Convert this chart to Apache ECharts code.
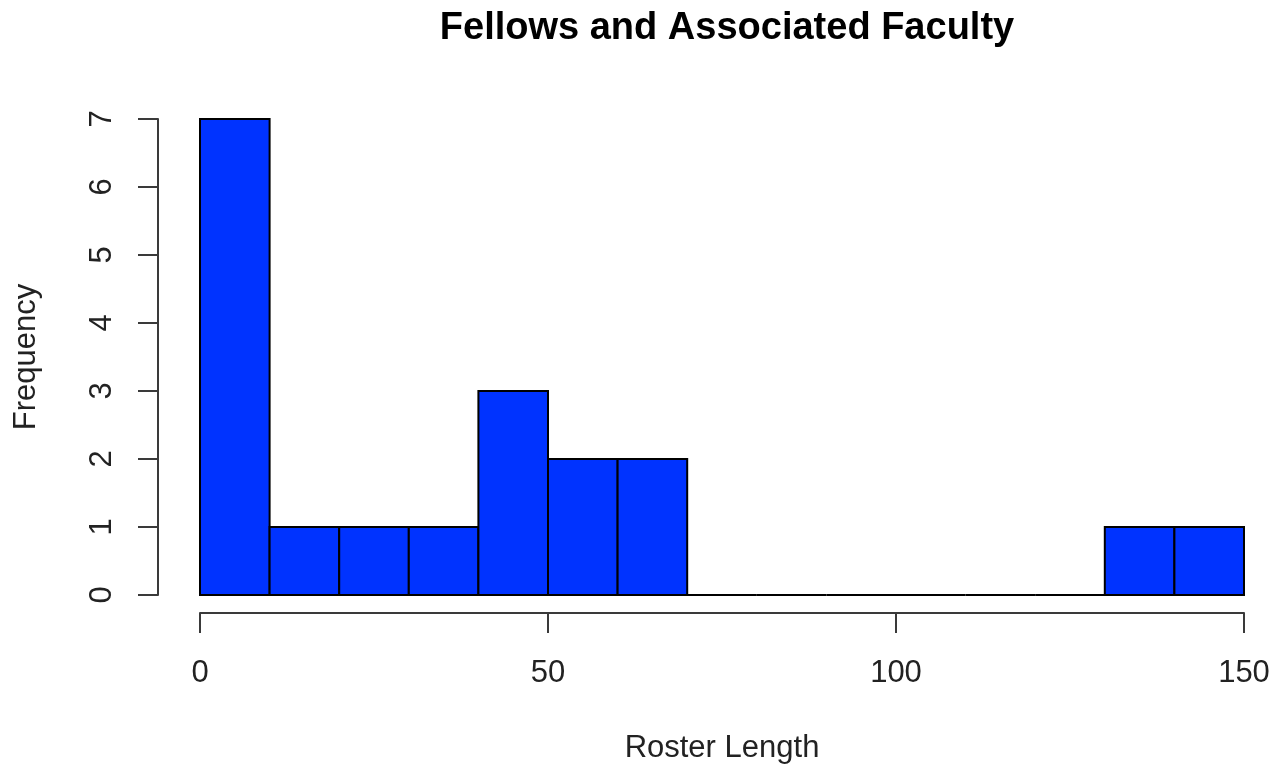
<!DOCTYPE html>
<html>
<head>
<meta charset="utf-8">
<script src="https://cdn.jsdelivr.net/npm/echarts@6/dist/echarts.min.js"></script>
<style>html,body{margin:0;padding:0;background:#fff}#chart{width:1284px;height:767px}</style>
</head>
<body>
<div id="chart"></div>
<script>
const chartTitle = 'Fellows and Associated Faculty';
const xTitle = 'Roster Length';
const yTitle = 'Frequency';
const binStarts = [0, 10, 20, 30, 40, 50, 60, 70, 80, 90, 100, 110, 120, 130, 140];
const binEnds   = [10, 20, 30, 40, 50, 60, 70, 80, 90, 100, 110, 120, 130, 140, 150];
const counts    = [7, 1, 1, 1, 3, 2, 2, 0, 0, 0, 0, 0, 0, 1, 1];

const FONT = 'Liberation Sans, Arial, Helvetica, sans-serif';
const data = binStarts.map((s, i) => [s, binEnds[i], counts[i]]);

const chart = echarts.init(document.getElementById('chart'), null, {renderer: 'canvas'});
chart.setOption({
  backgroundColor: '#ffffff',
  animation: false,
  title: {
    text: chartTitle,
    left: 722,
    top: 5,
    textAlign: 'center',
    textStyle: {fontFamily: FONT, fontWeight: 'bold', fontSize: 38, color: '#000'}
  },
  grid: {left: 200, right: 40, top: 119, bottom: 172, containLabel: false, outerBoundsMode: 'none'},
  xAxis: {
    type: 'value', min: 0, max: 150, interval: 50,
    offset: 18,
    splitLine: {show: false},
    axisLine: {show: true, onZero: false, lineStyle: {color: '#3a3a3a', width: 2}},
    axisTick: {show: true, length: 20, lineStyle: {color: '#3a3a3a', width: 2}},
    axisLabel: {margin: 45, fontSize: 31, fontFamily: FONT, color: '#222'},
    name: xTitle, nameLocation: 'middle', nameGap: 120,
    nameTextStyle: {fontSize: 31, fontFamily: FONT, color: '#222'}
  },
  yAxis: {
    type: 'value', min: 0, max: 7, interval: 1,
    offset: 42,
    splitLine: {show: false},
    axisLine: {show: true, onZero: false, lineStyle: {color: '#3a3a3a', width: 2}},
    axisTick: {show: true, length: 20, lineStyle: {color: '#3a3a3a', width: 2}},
    axisLabel: {rotate: 90, margin: 40, fontSize: 31, fontFamily: FONT, color: '#222'},
    name: yTitle, nameLocation: 'middle', nameGap: 116,
    nameTextStyle: {fontSize: 31, fontFamily: FONT, color: '#222'}
  },
  series: [{
    type: 'custom',
    clip: false,
    data: data,
    encode: {x: [0, 1], y: 2},
    renderItem: function (params, api) {
      const p0 = api.coord([api.value(0), api.value(2)]);
      const p1 = api.coord([api.value(1), 0]);
      return {
        type: 'rect',
        shape: {x: p0[0], y: p0[1], width: p1[0] - p0[0], height: p1[1] - p0[1]},
        style: {fill: '#0033ff', stroke: '#000', lineWidth: 2}
      };
    }
  }]
});
</script>
</body>
</html>
